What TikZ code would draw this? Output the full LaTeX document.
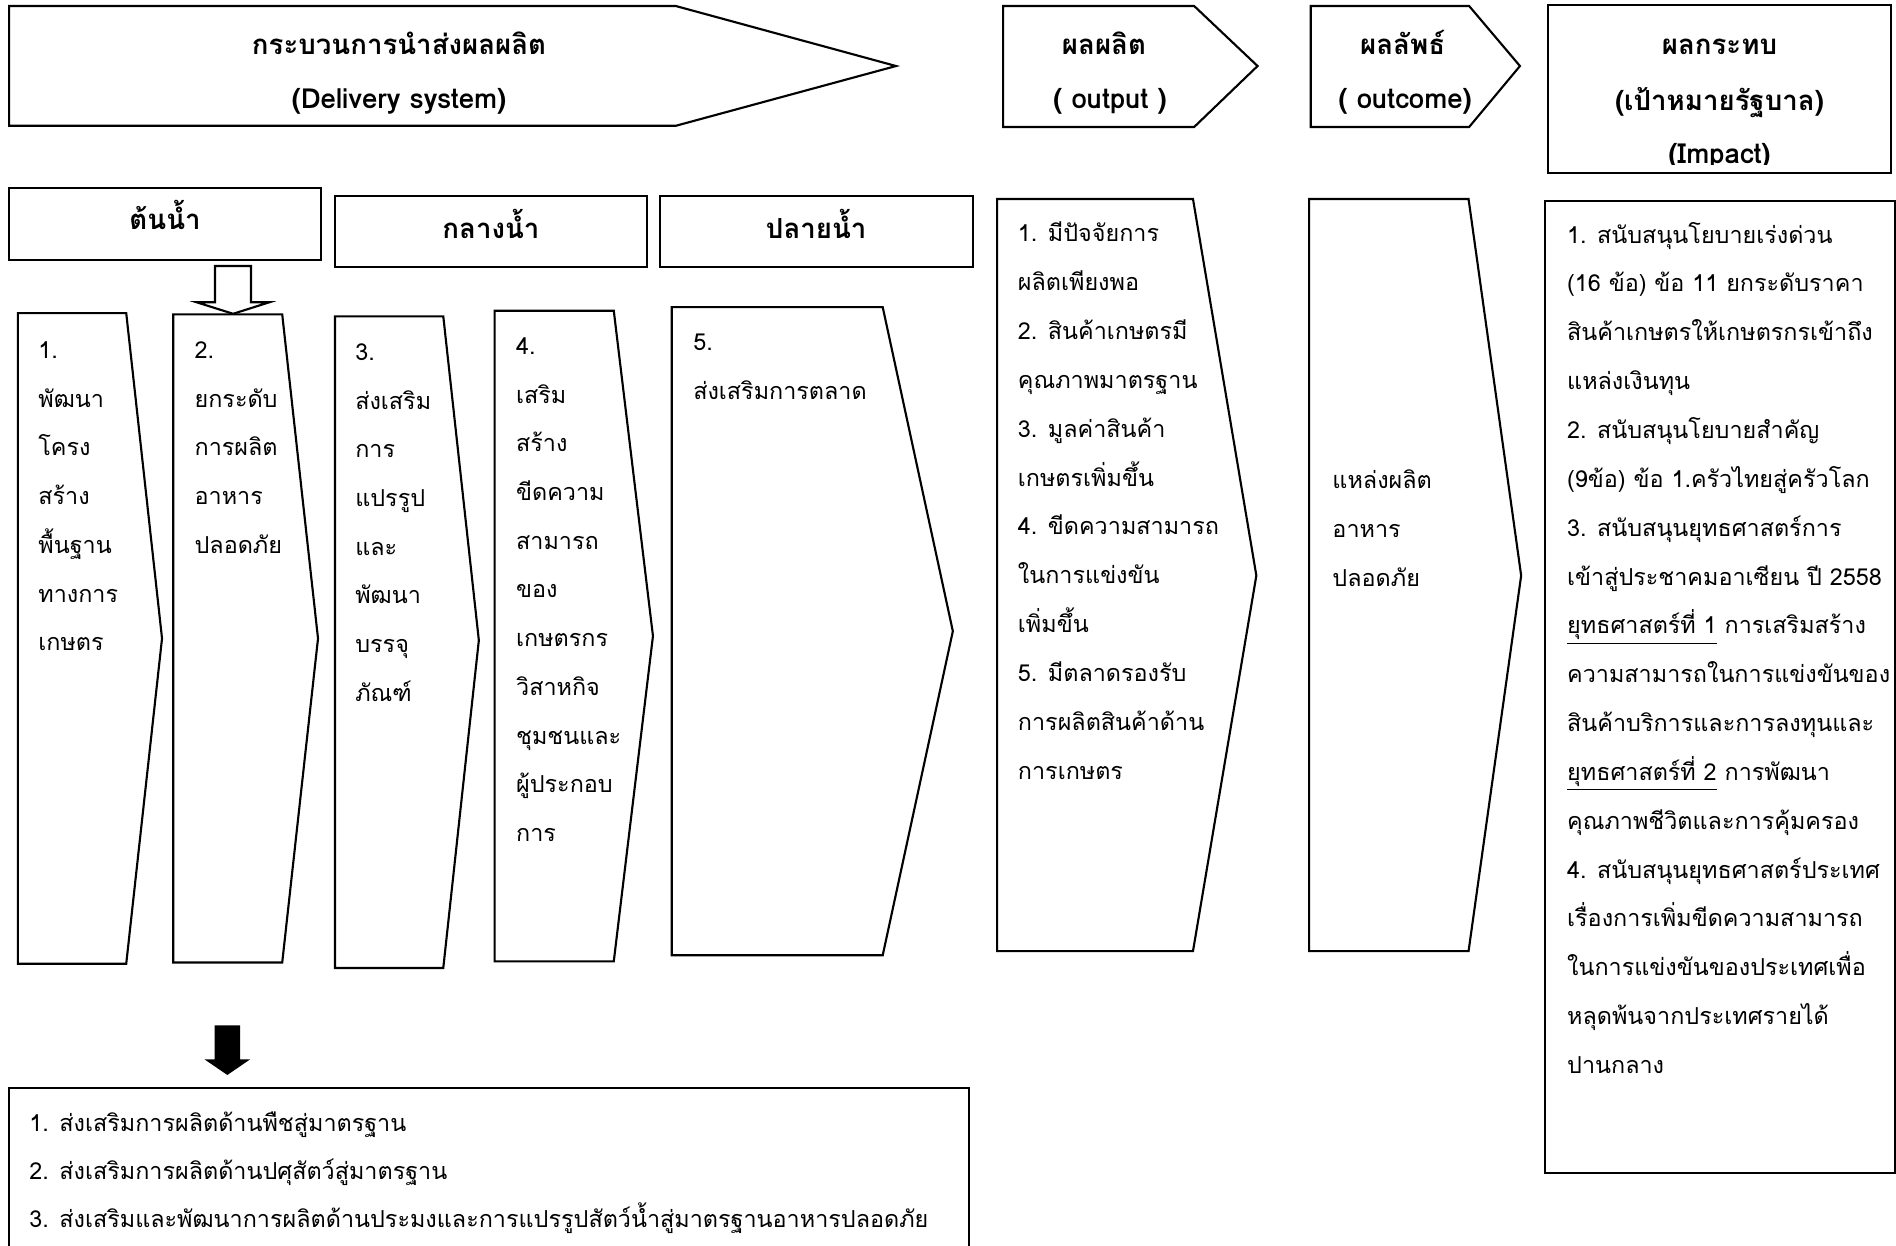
\documentclass[tikz,border=0pt]{standalone}
\usepackage{fontspec}
\setmainfont[Script=Thai]{Loma}
\usetikzlibrary{positioning}

\tikzset{
  outline/.style={draw, line width=1pt, line join=miter},
  head/.style={font=\fontsize{13}{15}\selectfont\bfseries, anchor=base, inner sep=0pt},
  txt/.style={font=\fontsize{11}{13}\selectfont, anchor=base west, inner sep=0pt},
}

\begin{document}
\begin{tikzpicture}[x=0.02cm, y=-0.02cm]
\clip (0,0) rectangle (1568,1030.4);

% top row of chevrons
\draw[outline] (7.5,5) -- (559,5) -- (741,54.6) -- (559,104) -- (7.5,104) -- cycle;
\node[head] (ds1) at (330,45) {กระบวนการนำส่งผลผลิต};
\node[head] (ds2) at (330,90) {(Delivery system)};

\draw[outline] (829.6,5) -- (987.6,5) -- (1040,54.6) -- (987.6,105) -- (829.6,105) -- cycle;
\node[head] (out1) at (913,45) {ผลผลิต};
\node[head] (out2) at (918,90) {( output )};

\draw[outline] (1084,5) -- (1215,5) -- (1257,54.6) -- (1215,105) -- (1084,105) -- cycle;
\node[head] (oc1) at (1160,45) {ผลลัพธ์};
\node[head] (oc2) at (1162,90) {( outcome)};

\draw[outline] (1280,4) rectangle (1564,143);
\begin{scope}
\clip (1280,4) rectangle (1564,136);
\node[head] (im1) at (1422,45) {ผลกระทบ};
\node[head] (im2) at (1422,91) {(เป้าหมายรัฐบาล)};
\node[head] (im3) at (1422,135) {(Impact)};
\end{scope}

% stream headers
\draw[outline] (7.5,155.7) rectangle (265.6,215);
\node[head] (up) at (136.5,190) {ต้นน้ำ};
\draw[outline] (277,162) rectangle (535,221);
\node[head] (mid) at (406,197) {กลางน้ำ};
\draw[outline] (546,162) rectangle (804.5,221);
\node[head] (down) at (675,197) {ปลายน้ำ};

% hollow arrow into box 2
\draw[outline] (177.8,220) -- (207.6,220) -- (207.6,250) -- (222.7,250) -- (192.8,259.5)
  -- (162.7,250) -- (177.8,250) -- cycle;

% activity chevrons
\draw[outline] (14.8,259) -- (104.4,259) -- (134,528) -- (104.4,797) -- (14.8,797) -- cycle;
\foreach \t [count=\i] in {1., พัฒนา, โครง, สร้าง, พื้นฐาน, ทางการ, เกษตร}
  \node[txt] (a1-\i) at (31.4,{296.5+40.3*(\i-1)}) {\t};

\draw[outline] (143.3,260) -- (233.4,260) -- (263,528) -- (233.4,796) -- (143.3,796) -- cycle;
\foreach \t [count=\i] in {2., ยกระดับ, การผลิต, อาหาร, ปลอดภัย}
  \node[txt] (a2-\i) at (160.6,{296.5+40.3*(\i-1)}) {\t};

\draw[outline] (277,261.6) -- (366.6,261.6) -- (396,529.5) -- (366.6,800.5) -- (277,800.5) -- cycle;
\foreach \t [count=\i] in {3., ส่งเสริม, การ, แปรรูป, และ, พัฒนา, บรรจุ, ภัณฑ์}
  \node[txt] (a3-\i) at (293.5,{298+40.3*(\i-1)}) {\t};

\draw[outline] (409,257) -- (507.6,257) -- (540,526) -- (507.6,795) -- (409,795) -- cycle;
\foreach \t [count=\i] in {4., เสริม, สร้าง, ขีดความ, สามารถ, ของ, เกษตรกร, วิสาหกิจ, ชุมชนและ, ผู้ประกอบ, การ}
  \node[txt] (a4-\i) at (426.5,{293+40.3*(\i-1)}) {\t};

\draw[outline] (555.5,254) -- (730,254) -- (788,522) -- (730,790) -- (555.5,790) -- cycle;
\foreach \t [count=\i] in {5., ส่งเสริมการตลาด}
  \node[txt] (a5-\i) at (573,{290+40.3*(\i-1)}) {\t};

% output and outcome chevrons
\draw[outline] (824.6,164.6) -- (986.6,164.6) -- (1039,476) -- (986.6,786.6) -- (824.6,786.6) -- cycle;
\foreach \t [count=\i] in {1. มีปัจจัยการ, ผลิตเพียงพอ, 2. สินค้าเกษตรมี, คุณภาพมาตรฐาน,
    3. มูลค่าสินค้า, เกษตรเพิ่มขึ้น, 4. ขีดความสามารถ, ในการแข่งขัน, เพิ่มขึ้น,
    5. มีตลาดรองรับ, การผลิตสินค้าด้าน, การเกษตร}
  \node[txt] (o-\i) at (841.5,{200+40.4*(\i-1)}) {\t};

\draw[outline] (1082.6,164.6) -- (1214.5,164.6) -- (1258,476) -- (1214.5,786.6) -- (1082.6,786.6) -- cycle;
\foreach \t [count=\i] in {แหล่งผลิต, อาหาร, ปลอดภัย}
  \node[txt] (r-\i) at (1101.6,{404+40.4*(\i-1)}) {\t};

% impact box
\draw[outline] (1277.7,166) rectangle (1567,970);
\foreach \t [count=\i] in {1. สนับสนุนโยบายเร่งด่วน, (16 ข้อ) ข้อ 11 ยกระดับราคา,
    สินค้าเกษตรให้เกษตรกรเข้าถึง, แหล่งเงินทุน, 2. สนับสนุนโยบายสำคัญ,
    (9ข้อ) ข้อ 1.ครัวไทยสู่ครัวโลก, 3. สนับสนุนยุทธศาสตร์การ,
    เข้าสู่ประชาคมอาเซียน ปี 2558, {\underline{ยุทธศาสตร์ที่ 1} การเสริมสร้าง},
    ความสามารถในการแข่งขันของ, สินค้าบริการและการลงทุนและ,
    {\underline{ยุทธศาสตร์ที่ 2} การพัฒนา}, คุณภาพชีวิตและการคุ้มครอง,
    4. สนับสนุนยุทธศาสตร์ประเทศ, เรื่องการเพิ่มขีดความสามารถ,
    ในการแข่งขันของประเทศเพื่อ, หลุดพ้นจากประเทศรายได้, ปานกลาง}
  \node[txt] (i-\i) at (1295.7,{201+40.4*(\i-1)}) {\t};

% black arrow and bottom box
\fill (177.5,848) -- (198.5,848) -- (198.5,876) -- (207,876) -- (188,889) -- (169,876)
  -- (177.5,876) -- cycle;
\draw[outline] (7.7,900) rectangle (801,1060);
\foreach \t [count=\i] in {1. ส่งเสริมการผลิตด้านพืชสู่มาตรฐาน, 2. ส่งเสริมการผลิตด้านปศุสัตว์สู่มาตรฐาน,
    3. ส่งเสริมและพัฒนาการผลิตด้านประมงและการแปรรูปสัตว์น้ำสู่มาตรฐานอาหารปลอดภัย}
  \node[txt] (b-\i) at (24,{935.5+39.8*(\i-1)}) {\t};
\end{tikzpicture}
\end{document}
